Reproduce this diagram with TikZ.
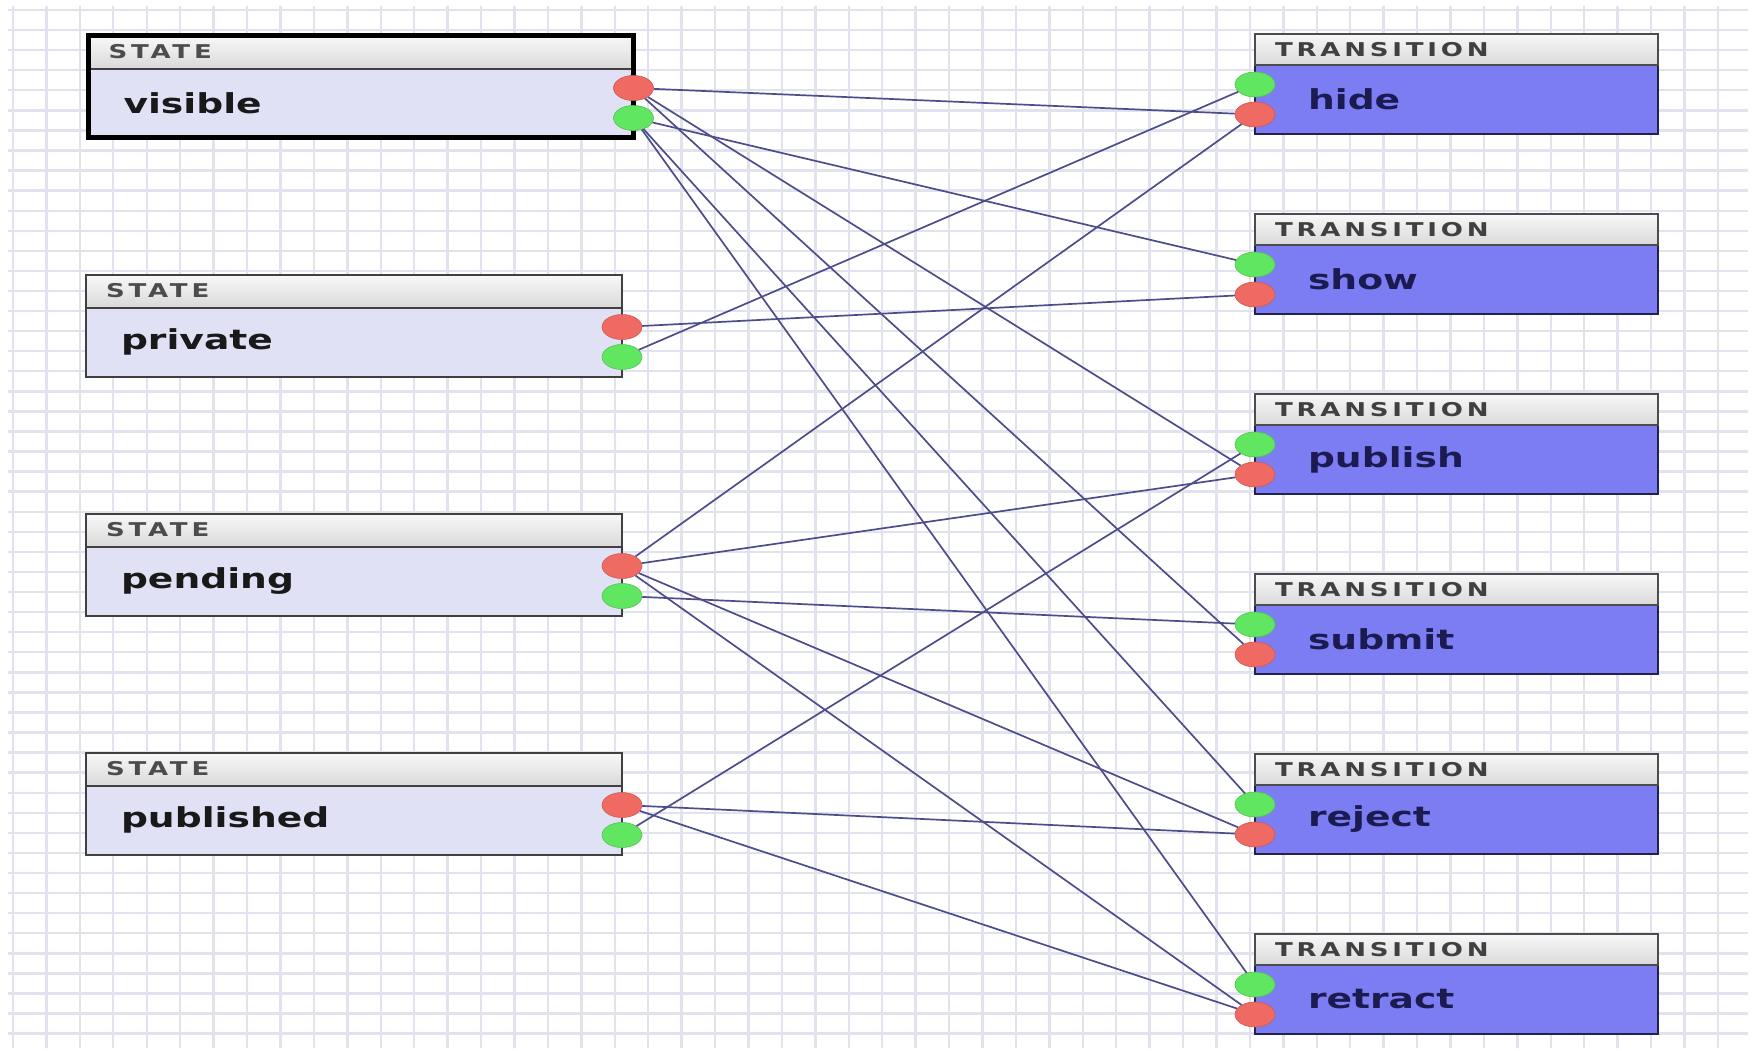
\documentclass[tikz,border=0pt]{standalone}
\usepackage{fontspec}
\usepackage{tikz}
\usetikzlibrary{arrows,shapes,positioning}
\newfontfamily\boxfont{DejaVu Sans}[FakeStretch=1.37]
\newfontfamily\headfont{DejaVu Sans}[FakeStretch=1.37,LetterSpace=20]
\definecolor{statefill}{HTML}{E1E1F5}
\definecolor{transfill}{HTML}{7D7DF3}
\definecolor{transdraw}{HTML}{22224E}
\definecolor{wire}{HTML}{4D4D8C}
\definecolor{gridline}{HTML}{E2E2EF}
\definecolor{portred}{HTML}{EF6A62}
\definecolor{portgreen}{HTML}{60E660}
\definecolor{labelnavy}{HTML}{1B1B52}
\tikzstyle{statenode} = [rectangle, draw=black!75, line width=2pt, fill=statefill, outer sep=0pt,
    text width=466pt, inner xsep=35pt, minimum height=69pt, align=left, text=black!90,
    font=\boxfont\bfseries\fontsize{27.5}{30}\selectfont, node distance=239pt]
\tikzstyle{statehead} = [rectangle, draw=black!75, line width=2pt, top color=gray!5, bottom color=gray!30,
    outer sep=0pt, text width=496pt, inner xsep=20pt, minimum height=33pt, align=left,
    text=black!70, font=\headfont\bfseries\fontsize{19}{20}\selectfont]
\tikzstyle{transnode} = [rectangle, draw=transdraw, line width=2pt, fill=transfill, outer sep=0pt,
    text width=297pt, inner xsep=53pt, minimum height=69pt, align=left, text=labelnavy,
    font=\boxfont\bfseries\fontsize{27.5}{30}\selectfont, node distance=180pt]
\tikzstyle{transhead} = [rectangle, draw=black!70, line width=2pt, top color=gray!5, bottom color=gray!30,
    outer sep=0pt, text width=363pt, inner xsep=20pt, minimum height=31pt, align=left,
    text=black!75, font=\headfont\bfseries\fontsize{19}{20}\selectfont]
\tikzstyle{outport} = [ellipse, draw=portred!85!black, line width=0.6pt, fill=portred,
    minimum width=40pt, minimum height=25pt, inner sep=0pt]
\tikzstyle{inport} = [ellipse, draw=portgreen!85!black, line width=0.6pt, fill=portgreen,
    minimum width=40pt, minimum height=25pt, inner sep=0pt]
\tikzstyle{line} = [draw=wire, line width=1.7pt]
\tikzstyle{selframe} = [draw=black, line width=5pt]

\begin{document}
\begin{tikzpicture}[x=1pt,y=1pt]
    \useasboundingbox (0,0) rectangle (1757,-1050);
    \fill [white] (0,0) rectangle (1757,-1050);
    % grid paper
    \foreach \gx in {0,...,51} \draw [gridline, line width=2.4pt] ({13+33.43*\gx},-6) -- ({13+33.43*\gx},-1048);
    \foreach \gy in {0,...,51} \draw [gridline, line width=2.4pt] (8,{-10-20.07*\gy}) -- (1748,{-10-20.07*\gy});

    % Place nodes
    \node [statenode, text width=475pt] at (361,-103) (visible) {visible}; \node [statehead, text width=505pt, above=0pt of visible] (visibleHead) {STATE};
    \node [statenode, below of=visible, xshift=-7pt] (private)   {private};   \node [statehead, above=0pt of private]   (privateHead)   {STATE};
    \node [statenode, below of=private]             (pending)   {pending};   \node [statehead, above=0pt of pending]   (pendingHead)   {STATE};
    \node [statenode, below of=pending]             (published) {published}; \node [statehead, above=0pt of published] (publishedHead) {STATE};
    \path [selframe] (visibleHead.north west) rectangle (visible.south east);

    \node [transnode] at (1456.5,-99.5) (hide) {hide};  \node [transhead, above=0pt of hide]    (hideHead)    {TRANSITION};
    \node [transnode, below of=hide]    (show)    {show};    \node [transhead, above=0pt of show]    (showHead)    {TRANSITION};
    \node [transnode, below of=show]    (publish) {publish}; \node [transhead, above=0pt of publish] (publishHead) {TRANSITION};
    \node [transnode, below of=publish] (submit)  {submit};  \node [transhead, above=0pt of submit]  (submitHead)  {TRANSITION};
    \node [transnode, below of=submit]  (reject)  {reject};  \node [transhead, above=0pt of reject]  (rejectHead)  {TRANSITION};
    \node [transnode, below of=reject]  (retract) {retract}; \node [transhead, above=0pt of retract] (retractHead) {TRANSITION};

    % ports
    \node [outport, yshift=15pt]  at (visible.east)   (visibleOut)   {}; \node [inport, yshift=-15pt] at (visible.east)   (visibleIn)   {};
    \node [outport, yshift=15pt]  at (private.east)   (privateOut)   {}; \node [inport, yshift=-15pt] at (private.east)   (privateIn)   {};
    \node [outport, yshift=15pt]  at (pending.east)   (pendingOut)   {}; \node [inport, yshift=-15pt] at (pending.east)   (pendingIn)   {};
    \node [outport, yshift=15pt]  at (published.east) (publishedOut) {}; \node [inport, yshift=-15pt] at (published.east) (publishedIn) {};

    \node [inport, yshift=15pt] at (hide.west)    (hideTo)    {}; \node [outport, yshift=-15pt] at (hide.west)    (hideFrom)    {};
    \node [inport, yshift=15pt] at (show.west)    (showTo)    {}; \node [outport, yshift=-15pt] at (show.west)    (showFrom)    {};
    \node [inport, yshift=15pt] at (publish.west) (publishTo) {}; \node [outport, yshift=-15pt] at (publish.west) (publishFrom) {};
    \node [inport, yshift=15pt] at (submit.west)  (submitTo)  {}; \node [outport, yshift=-15pt] at (submit.west)  (submitFrom)  {};
    \node [inport, yshift=15pt] at (reject.west)  (rejectTo)  {}; \node [outport, yshift=-15pt] at (reject.west)  (rejectFrom)  {};
    \node [inport, yshift=15pt] at (retract.west) (retractTo) {}; \node [outport, yshift=-15pt] at (retract.west) (retractFrom) {};

    \path [line] (visibleOut) -- (hideFrom);
    \path [line] (visibleOut) -- (publishFrom);
    \path [line] (visibleOut) -- (submitFrom);
    \path [line] (showTo)    -- (visibleIn);
    \path [line] (rejectTo)  -- (visibleIn);
    \path [line] (retractTo) -- (visibleIn);

    \path [line] (privateOut) -- (showFrom);
    \path [line] (hideTo)     -- (privateIn);

    \path [line] (pendingOut) -- (hideFrom);
    \path [line] (pendingOut) -- (publishFrom);
    \path [line] (pendingOut) -- (rejectFrom);
    \path [line] (pendingOut) -- (retractFrom);
    \path [line] (submitTo)   -- (pendingIn);

    \path [line] (publishedOut) -- (rejectFrom);
    \path [line] (publishedOut) -- (retractFrom);
    \path [line] (publishTo)    -- (publishedIn);
\end{tikzpicture}
\end{document}
